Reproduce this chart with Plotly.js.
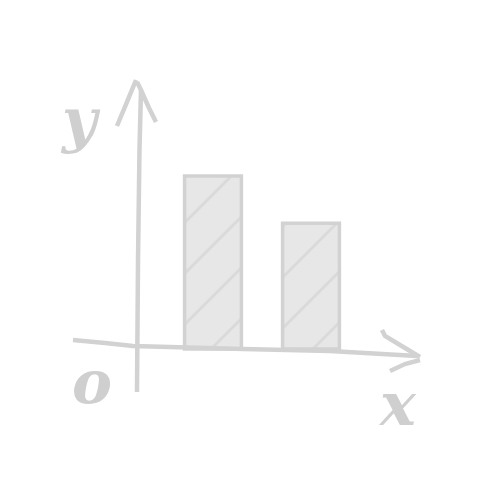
<!DOCTYPE html>
<html>
<head>
<meta charset="utf-8">
<script src="https://cdn.plot.ly/plotly-3.0.1.min.js"></script>
<style>
  html, body { margin: 0; padding: 0; background: #fff; }
  #chart { width: 487px; height: 488px; }
</style>
</head>
<body>
<div id="chart"></div>
<script>
// data
var barX = [1, 2]
var barValues = [5.5, 4.0]
var axisLabels = ['y', 'o', 'x']

var W = 487, H = 488
var ink = '#d2d2d2'

// pixel -> paper helpers for the sketchy axis strokes
var px = function(x){ return (x / W).toFixed(4) }
var py = function(y){ return (1 - y / H).toFixed(4) }
var path = function(pts){
  return pts.map(function(p, i){
    return (i ? 'L' : 'M') + px(p[0]) + ',' + py(p[1])
  }).join(' ')
}
var stroke = function(pts){
  return {type: 'path', xref: 'paper', yref: 'paper', path: path(pts),
          line: {color: ink, width: 4.5}, layer: 'above'}
}

var shapes = [
  // y axis and arrow head
  stroke([[137, 392], [138, 260], [139.5, 150], [141, 90]]),
  stroke([[117, 126], [127, 102], [136, 80]]),
  stroke([[137, 82], [141, 90], [149, 108], [156, 122]]),
  // x axis and arrow head
  stroke([[73, 340], [105, 343], [133, 346], [243, 349], [330, 351], [417, 356]]),
  stroke([[382, 330], [385, 336], [400, 345], [420, 357]]),
  stroke([[390, 371], [405, 364], [420, 360]])
]

var trace = {
  x: barX,
  y: barValues,
  type: 'bar',
  width: 0.58,
  marker: {
    color: '#e7e7e7',
    line: {color: ink, width: 3.5},
    pattern: {shape: '/', fgcolor: '#d8d8d8', bgcolor: '#e7e7e7', size: 36, solidity: 0.07}
  },
  hoverinfo: 'none'
}

var labelPos = [[80, 120], [92, 382], [397, 404]]
var annotations = axisLabels.map(function(t, i){
  return {text: t, xref: 'paper', yref: 'paper',
          x: labelPos[i][0] / W, y: 1 - labelPos[i][1] / H,
          xanchor: 'center', yanchor: 'middle', showarrow: false,
          font: {family: 'DejaVu Serif', size: 60, color: '#cfcfcf', weight: 'bold', style: 'italic'}}
})

// 98 px per x unit, x=0 at pixel 115; 31.45 px per y unit, y=0 at pixel 349
var layout = {
  width: W, height: H,
  margin: {l: 0, r: 0, t: 0, b: 0},
  paper_bgcolor: '#fff', plot_bgcolor: '#fff',
  showlegend: false,
  xaxis: {range: [-115 / 98, (W - 115) / 98], visible: false, fixedrange: true},
  yaxis: {range: [-(H - 349) / 31.45, 349 / 31.45], visible: false, fixedrange: true},
  shapes: shapes,
  annotations: annotations
}

Plotly.newPlot('chart', [trace], layout, {displayModeBar: false, staticPlot: true})
</script>
</body>
</html>
